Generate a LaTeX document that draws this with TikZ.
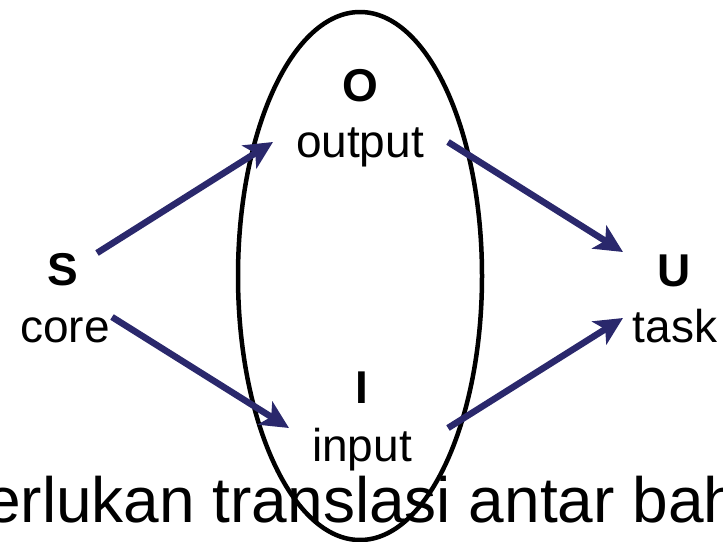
\documentclass[tikz,border=0pt]{standalone}
\usepackage{fontspec}
\setmainfont{Liberation Sans}
\usetikzlibrary{arrows.meta}
\definecolor{navy}{RGB}{42,40,108}

\begin{document}
\begin{tikzpicture}[x=1pt,y=-1pt,
    lbl/.style={inner sep=0, anchor=base, font=\fontsize{46}{50}\selectfont},
    arr/.style={navy, line width=6.5pt, -{Stealth[length=28pt,width=27pt,inset=7pt]}}]
    \useasboundingbox (0,0) rectangle (723,541);
    \clip (0,0) rectangle (723,541);

    % ellipse
    \draw[line width=4.5pt] (360,276) ellipse [x radius=122, y radius=264];

    % labels
    \node[lbl, font=\fontsize{46}{50}\selectfont\bfseries] (S) at (63,285) {S};
    \node[lbl] (core) at (65,342) {core};
    \node[lbl, font=\fontsize{46}{50}\selectfont\bfseries] (O) at (360,101) {O};
    \node[lbl] (output) at (360,157) {output};
    \node[lbl, font=\fontsize{46}{50}\selectfont\bfseries] (I) at (362,403) {I};
    \node[lbl] (input) at (362,461) {input};
    \node[lbl, font=\fontsize{46}{50}\selectfont\bfseries] (U) at (674,286) {U};
    \node[lbl] (task) at (675,342) {task};

    % arrow ends
    \coordinate (s1) at (97,253);
    \coordinate (s2) at (112,317);
    \coordinate (o1) at (273,142);
    \coordinate (o2) at (448,142);
    \coordinate (i1) at (289,428);
    \coordinate (i2) at (448,428);
    \coordinate (u1) at (623,252);
    \coordinate (u2) at (623,318);

    % arrows
    \draw[arr] (s1) -- (o1);
    \draw[arr] (s2) -- (i1);
    \draw[arr] (o2) -- (u1);
    \draw[arr] (i2) -- (u2);

    % bottom line
    \node[inner sep=0, anchor=base west, font=\fontsize{64}{70}\selectfont] (note) at (-15,522) {erlukan translasi antar bah};
\end{tikzpicture}
\end{document}
